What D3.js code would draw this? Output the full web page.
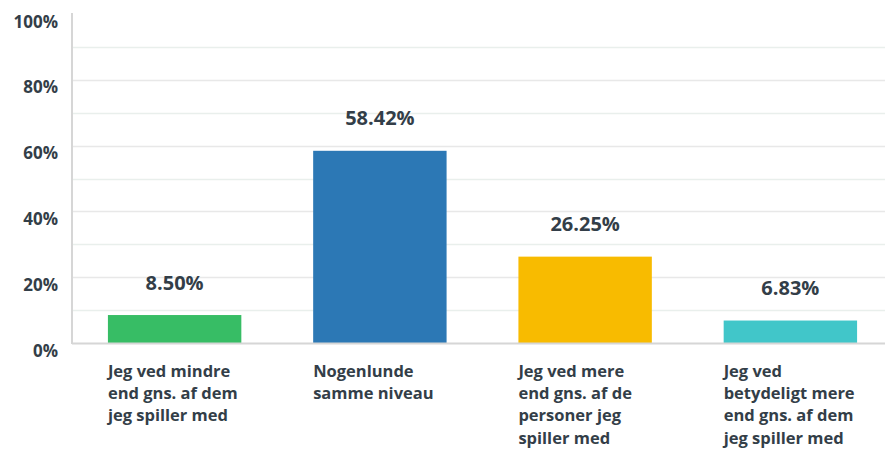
<!DOCTYPE html>
<html><head><meta charset="utf-8">
<script src="https://cdn.jsdelivr.net/npm/d3@7"></script>
<style>
html,body{margin:0;padding:0;background:#fff;}
svg{display:block;font-family:"Open Sans",sans-serif;}
</style></head>
<body><svg id="c" width="885" height="450"></svg>
<script>
const categories = [
  "Jeg ved mindre end gns. af dem jeg spiller med",
  "Nogenlunde samme niveau",
  "Jeg ved mere end gns. af de personer jeg spiller med",
  "Jeg ved betydeligt mere end gns. af dem jeg spiller med"
];
const categoryLines = [
  ["Jeg ved mindre", "end gns. af dem", "jeg spiller med"],
  ["Nogenlunde", "samme niveau"],
  ["Jeg ved mere", "end gns. af de", "personer jeg", "spiller med"],
  ["Jeg ved", "betydeligt mere", "end gns. af dem", "jeg spiller med"]
];
const values = [8.50, 58.42, 26.25, 6.83];
const colors = ["#37bd65", "#2c78b5", "#f8bb00", "#41c6c9"];
const yTicks = [0, 20, 40, 60, 80, 100];
const gridTicks = [10, 20, 30, 40, 50, 60, 70, 80, 90];

const svg = d3.select("#c");
const x0 = 72, x1 = 893, yBase = 343, yTop = 14;
const x = d3.scaleBand().domain(categories).range([x0, x1]).paddingInner(0.35).paddingOuter(0.175);
const y = d3.scaleLinear().domain([0, 100]).range([yBase, yTop]);

// gridlines
svg.append("g").selectAll("line").data(gridTicks).join("line")
  .attr("x1", x0).attr("x2", 885)
  .attr("y1", d => Math.round(y(d)) + 0.5).attr("y2", d => Math.round(y(d)) + 0.5)
  .attr("stroke", d => d % 20 === 0 ? "#e8e8e8" : "#e9efec").attr("stroke-width", 1.5);

// bars
svg.append("g").selectAll("rect").data(values).join("rect")
  .attr("x", (d, i) => x(categories[i]))
  .attr("width", x.bandwidth())
  .attr("y", d => y(d))
  .attr("height", d => yBase - y(d))
  .attr("fill", (d, i) => colors[i]);

// axis lines
svg.append("line").attr("x1", x0).attr("x2", x0).attr("y1", 13).attr("y2", yBase + 1)
  .attr("stroke", "#d6d6d6").attr("stroke-width", 2);
svg.append("line").attr("x1", x0).attr("x2", 885).attr("y1", yBase + 0.5).attr("y2", yBase + 0.5)
  .attr("stroke", "#d6d6d6").attr("stroke-width", 2);

// y tick labels
svg.append("g").selectAll("text").data(yTicks).join("text")
  .attr("x", 58).attr("y", d => y(d) + 7)
  .attr("text-anchor", "end").attr("dominant-baseline", "central")
  .attr("font-size", 17).attr("font-weight", 700).attr("fill", "#333e48")
  .text(d => d + "%");

// value labels
svg.append("g").selectAll("text").data(values).join("text")
  .attr("x", (d, i) => x(categories[i]) + x.bandwidth() / 2)
  .attr("y", d => y(d) - 33)
  .attr("text-anchor", "middle").attr("dominant-baseline", "central")
  .attr("font-size", 20).attr("font-weight", 700).attr("fill", "#333e48")
  .text(d => d.toFixed(2) + "%");

// category labels
const cl = svg.append("g").selectAll("text").data(categoryLines).join("text")
  .attr("x", (d, i) => x(categories[i]))
  .attr("font-size", 16.5).attr("font-weight", 700).attr("fill", "#333e48");
cl.each(function(lines) {
  d3.select(this).selectAll("tspan").data(lines).join("tspan")
    .attr("x", d3.select(this).attr("x"))
    .attr("y", (l, j) => 377 + j * 22.2)
    .text(l => l);
});
</script></body></html>
